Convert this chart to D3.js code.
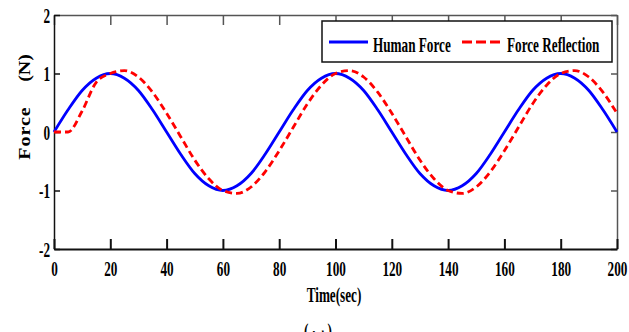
<!DOCTYPE html>
<html>
<head>
<meta charset="utf-8">
<script src="https://cdn.jsdelivr.net/npm/d3@7"></script>
<style>
  body { margin: 0; background: #fff; }
  text { font-family: "Liberation Serif", "Times New Roman", serif; font-weight: bold; }
</style>
</head>
<body>
<div id="chart"></div>
<script>
// time samples (sec)
var time = [0, 5, 10, 15, 20, 25, 30, 35, 40, 45, 50, 55, 60, 65, 70, 75, 80, 85, 90, 95, 100,
  105, 110, 115, 120, 125, 130, 135, 140, 145, 150, 155, 160, 165, 170, 175, 180, 185, 190, 195, 200];

// Human Force (N)
var humanForce = [0, 0.38, 0.71, 0.92, 1.0, 0.92, 0.71, 0.38, 0, -0.38, -0.71, -0.92, -1.0, -0.92, -0.71, -0.38,
  0, 0.38, 0.71, 0.92, 1.0, 0.92, 0.71, 0.38, 0, -0.38, -0.71, -0.92, -1.0, -0.92, -0.71, -0.38,
  0, 0.38, 0.71, 0.92, 1.0, 0.92, 0.71, 0.38, 0];

// Force Reflection (N)
var forceReflection = [0, 0, 0.36, 0.85, 1.0, 1.05, 0.94, 0.68, 0.32, -0.08, -0.48, -0.80, -1.0, -1.05, -0.94, -0.68,
  -0.32, 0.08, 0.48, 0.80, 1.0, 1.05, 0.94, 0.68, 0.32, -0.08, -0.48, -0.80, -1.0, -1.05, -0.94, -0.68,
  -0.32, 0.08, 0.48, 0.80, 1.0, 1.05, 0.94, 0.68, 0.32];

var xTicks = [0, 20, 40, 60, 80, 100, 120, 140, 160, 180, 200];
var yTicks = [-2, -1, 0, 1, 2];
var seriesNames = ["Human Force", "Force Reflection"];

var w = 629, h = 332;
var plotLeft = 54, plotRight = 617, plotTop = 15, plotBottom = 249;
var sx = 0.6; // horizontal squeeze of the original figure

var svg = d3.select("#chart").append("svg")
  .attr("width", w)
  .attr("height", h);

var x = d3.scaleLinear().domain([0, 200]).range([plotLeft, plotRight]);
var y = d3.scaleLinear().domain([-2, 2]).range([plotBottom, plotTop]);

function squeeze(sel) {
  sel.attr("transform", "scale(" + sx + ",1)");
}

// frame: top and right axes (ticks only)
svg.append("g")
  .attr("transform", "translate(0," + plotTop + ")")
  .call(d3.axisTop(x).tickValues(xTicks).tickSizeInner(-10).tickSizeOuter(0).tickFormat(""))
  .call(g => g.selectAll("path,line").attr("stroke", "#555").attr("stroke-width", 1.5));

svg.append("g")
  .attr("transform", "translate(" + plotRight + ",0)")
  .call(d3.axisRight(y).tickValues(yTicks).tickSizeInner(-6).tickSizeOuter(0).tickFormat(""))
  .call(g => g.selectAll("path,line").attr("stroke", "#555").attr("stroke-width", 1.5));

// bottom axis
svg.append("g")
  .attr("transform", "translate(0," + plotBottom + ")")
  .call(d3.axisBottom(x).tickValues(xTicks).tickSizeInner(-10).tickSizeOuter(0).tickPadding(11))
  .call(g => g.selectAll("path,line").attr("stroke", "#111").attr("stroke-width", 2))
  .call(g => g.selectAll("text")
    .attr("font-size", 22).attr("fill", "#000")
    .attr("font-family", "Liberation Serif").attr("font-weight", "bold")
    .call(squeeze));

// left axis
svg.append("g")
  .attr("transform", "translate(" + plotLeft + ",0)")
  .call(d3.axisLeft(y).tickValues(yTicks).tickSizeInner(-6).tickSizeOuter(0).tickPadding(4)
    .tickFormat(d => String(d)))
  .call(g => g.selectAll("path,line").attr("stroke", "#111").attr("stroke-width", 1.5))
  .call(g => g.selectAll("text")
    .attr("font-size", 22).attr("fill", "#000")
    .attr("font-family", "Liberation Serif").attr("font-weight", "bold")
    .attr("x", -4 / sx)
    .call(squeeze));

// lines
var line = d3.line()
  .x(d => x(d[0]))
  .y(d => y(d[1]))
  .curve(d3.curveMonotoneX);

svg.append("path")
  .datum(time.map((t, i) => [t, humanForce[i]]))
  .attr("d", line)
  .attr("fill", "none")
  .attr("stroke", "#0000ff")
  .attr("stroke-width", 2.8);

svg.append("path")
  .datum(time.map((t, i) => [t, forceReflection[i]]))
  .attr("d", line)
  .attr("fill", "none")
  .attr("stroke", "#ff0000")
  .attr("stroke-width", 2.8)
  .attr("stroke-dasharray", "7,4");

// legend
var legend = svg.append("g");
legend.append("rect")
  .attr("x", 322).attr("y", 21).attr("width", 290).attr("height", 41)
  .attr("fill", "#fff").attr("stroke", "#111").attr("stroke-width", 1.5);

legend.append("line")
  .attr("x1", 329).attr("x2", 368).attr("y1", 42).attr("y2", 42)
  .attr("stroke", "#0000ff").attr("stroke-width", 2.8);
legend.append("text")
  .attr("transform", "translate(373,52) scale(" + sx + ",1)")
  .attr("font-size", 22)
  .text(seriesNames[0]);

legend.append("line")
  .attr("x1", 462).attr("x2", 502).attr("y1", 42).attr("y2", 42)
  .attr("stroke", "#ff0000").attr("stroke-width", 2.8)
  .attr("stroke-dasharray", "10,4");
legend.append("text")
  .attr("transform", "translate(507,52) scale(" + sx + ",1)")
  .attr("font-size", 22)
  .text(seriesNames[1]);

// axis titles
svg.append("text")
  .attr("transform", "translate(334,302) scale(" + sx + ",1)")
  .attr("text-anchor", "middle")
  .attr("font-size", 22)
  .text("Time(sec)");

svg.append("text")
  .attr("transform", "translate(30,133) rotate(-90) scale(1,0.85)")
  .attr("text-anchor", "middle")
  .attr("font-size", 20)
  .attr("letter-spacing", 1)
  .text("Force");
svg.append("text")
  .attr("transform", "translate(30,68) rotate(-90) scale(1,0.85)")
  .attr("text-anchor", "middle")
  .attr("font-size", 20)
  .text("(N)");

// caption, cut by the bottom edge
svg.append("text")
  .attr("transform", "translate(318,338) scale(" + sx + ",1)")
  .attr("text-anchor", "middle")
  .attr("font-size", 22)
  .text("( ب )");
</script>
</body>
</html>
